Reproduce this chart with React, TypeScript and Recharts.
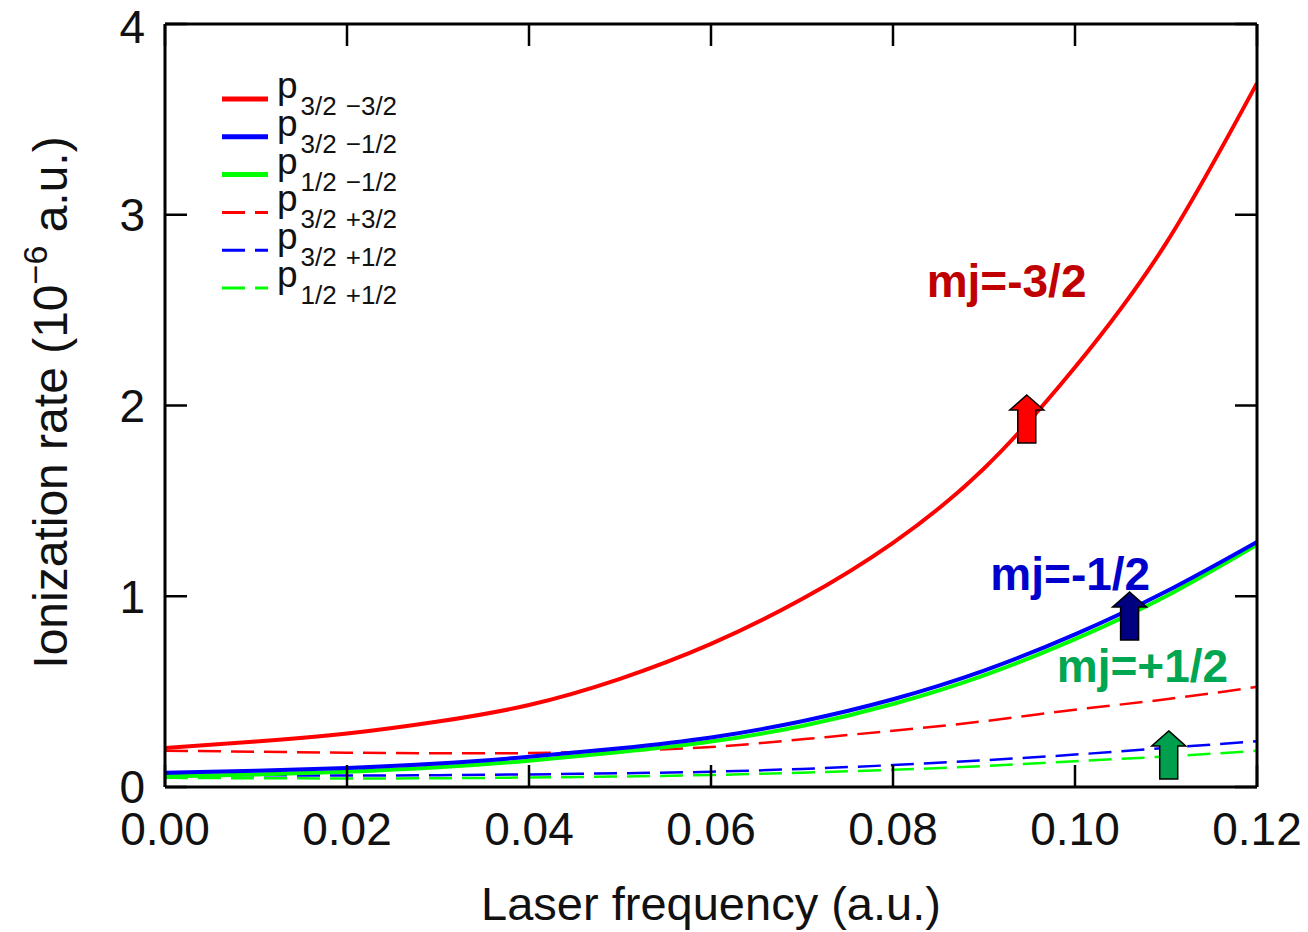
import React from 'react';
import { LineChart, Line, XAxis, YAxis, Legend, ReferenceDot, Label } from 'recharts';

// laser frequency (a.u.)
const freq = [0, 0.01, 0.02, 0.03, 0.04, 0.05, 0.06, 0.07, 0.08, 0.09, 0.1, 0.11, 0.12];

// ionization rate (1e-6 a.u.)
const p32m32 = [0.205, 0.238, 0.28, 0.343, 0.43, 0.567, 0.75, 0.985, 1.28, 1.67, 2.2, 2.85, 3.69];
const p32m12 = [0.075, 0.085, 0.1, 0.123, 0.158, 0.203, 0.26, 0.345, 0.46, 0.61, 0.8, 1.025, 1.285];
const p12m12 = [0.055, 0.065, 0.08, 0.103, 0.138, 0.183, 0.238, 0.32, 0.435, 0.585, 0.775, 1.0, 1.27];
const p32p32 = [0.19, 0.185, 0.18, 0.177, 0.178, 0.19, 0.21, 0.25, 0.295, 0.345, 0.405, 0.46, 0.525];
const p32p12 = [0.065, 0.062, 0.06, 0.062, 0.066, 0.072, 0.08, 0.095, 0.115, 0.14, 0.17, 0.205, 0.24];
const p12p12 = [0.048, 0.046, 0.045, 0.046, 0.05, 0.055, 0.063, 0.075, 0.09, 0.11, 0.135, 0.16, 0.19];

const xTicks = [0, 0.02, 0.04, 0.06, 0.08, 0.1, 0.12];
const yTicks = [0, 1, 2, 3, 4];

const FONT = '"Liberation Sans", Arial, Helvetica, sans-serif';

// legend order = order in the figure
const series = [
  { key: 'p32m32', values: p32m32, color: '#ff0000', dashed: false, j: '3/2', m: '\u22123/2' },
  { key: 'p32m12', values: p32m12, color: '#0000ff', dashed: false, j: '3/2', m: '\u22121/2' },
  { key: 'p12m12', values: p12m12, color: '#00ff00', dashed: false, j: '1/2', m: '\u22121/2' },
  { key: 'p32p32', values: p32p32, color: '#ff0000', dashed: true, j: '3/2', m: '+3/2' },
  { key: 'p32p12', values: p32p12, color: '#0000ff', dashed: true, j: '3/2', m: '+1/2' },
  { key: 'p12p12', values: p12p12, color: '#00ff00', dashed: true, j: '1/2', m: '+1/2' },
];

// draw order: green solid under blue solid
const drawOrder = ['p32p32', 'p32p12', 'p12p12', 'p32m32', 'p12m12', 'p32m12'];

const rows = freq.map((f, i) => {
  const r: Record<string, number> = { f };
  series.forEach((s) => {
    r[s.key] = s.values[i];
  });
  return r;
});

const DASH = '23 10';

const renderLegend = () => (
  <svg width={220} height={270} style={{ display: 'block', overflow: 'visible' }}>
    {series.map((s, i) => {
      const y = 41 + i * 37.8;
      return (
        <g key={s.key}>
          <line
            x1={7}
            x2={53}
            y1={y}
            y2={y}
            stroke={s.color}
            strokeWidth={s.dashed ? 3 : 5}
            strokeDasharray={s.dashed ? DASH : undefined}
          />
          <text x={62} y={y - 1} fontFamily={FONT} fontSize={37} fill="#111">
            p
            <tspan dx={3} dy={17} fontSize={26}>
              {s.j}
            </tspan>
            <tspan dx={9} fontSize={26}>
              {s.m}
            </tspan>
          </text>
        </g>
      );
    })}
  </svg>
);

const renderYLabel = (props: any) => {
  const vb = props.viewBox;
  const cx = vb.x + 67;
  const cy = vb.y + vb.height / 2 - 3;
  return (
    <text
      x={cx}
      y={cy}
      transform={`rotate(-90, ${cx}, ${cy})`}
      textAnchor="middle"
      fontFamily={FONT}
      fontSize={48}
      fill="#111"
    >
      Ionization rate (10
      <tspan dy={-20} fontSize={34}>
        {'\u22126'}
      </tspan>
      <tspan dy={20}> a.u.)</tspan>
    </text>
  );
};

const renderXLabel = (props: any) => {
  const vb = props.viewBox;
  return (
    <text
      x={vb.x + vb.width / 2}
      y={vb.y + 133}
      textAnchor="middle"
      fontFamily={FONT}
      fontSize={47}
      fill="#111"
    >
      Laser frequency (a.u.)
    </text>
  );
};

const arrow = (fill: string) => (p: any) => {
  const { cx, cy } = p;
  const d = `M${cx},${cy} L${cx + 17},${cy + 15} L${cx + 9},${cy + 15} L${cx + 9},${cy + 48} L${cx - 9},${cy + 48} L${cx - 9},${cy + 15} L${cx - 17},${cy + 15} Z`;
  return <path d={d} fill={fill} stroke="#000" strokeWidth={1.5} strokeLinejoin="miter" />;
};

const note = (txt: string, fill: string) => (p: any) => (
  <text x={p.cx} y={p.cy} fill={fill} fontFamily={FONT} fontSize={46} fontWeight="bold">
    {txt}
  </text>
);

const tickStyle = { fontSize: 46, fill: '#111', fontFamily: FONT };
const noLabel = () => '';

export default function App() {
  return (
    <div style={{ position: 'fixed', left: 0, top: 0, width: 1308, height: 932, background: '#fff' }}>
      <LineChart width={1308} height={932} data={rows} margin={{ top: 23, right: 50, bottom: 0, left: 0 }}>
        <XAxis
          dataKey="f"
          type="number"
          domain={[0, 0.12]}
          ticks={xTicks}
          tickFormatter={(v: number) => v.toFixed(2)}
          height={145}
          stroke="#000"
          axisLine={{ strokeWidth: 3 }}
          tickLine={{ strokeWidth: 2.5 }}
          tickSize={-22}
          tickMargin={47}
          tick={tickStyle}
          allowDataOverflow
        >
          <Label content={renderXLabel} />
        </XAxis>
        <XAxis
          xAxisId="top"
          orientation="top"
          dataKey="f"
          type="number"
          domain={[0, 0.12]}
          ticks={xTicks}
          height={1}
          stroke="#000"
          axisLine={{ strokeWidth: 3 }}
          tickLine={{ strokeWidth: 2.5 }}
          tickSize={-22}
          tickFormatter={noLabel}
          tick={{ fontSize: 1 }}
          allowDataOverflow
        />
        <YAxis
          type="number"
          domain={[0, 4]}
          ticks={yTicks}
          width={165}
          stroke="#000"
          axisLine={{ strokeWidth: 3 }}
          tickLine={{ strokeWidth: 2.5 }}
          tickSize={-22}
          tickMargin={42}
          tick={tickStyle}
          allowDataOverflow
        >
          <Label content={renderYLabel} />
        </YAxis>
        <YAxis
          yAxisId="right"
          orientation="right"
          type="number"
          domain={[0, 4]}
          ticks={yTicks}
          width={1}
          stroke="#000"
          axisLine={{ strokeWidth: 3 }}
          tickLine={{ strokeWidth: 2.5 }}
          tickSize={-22}
          tickFormatter={noLabel}
          tick={{ fontSize: 1 }}
          allowDataOverflow
        />
        <Legend
          layout="horizontal"
          verticalAlign="middle"
          align="center"
          content={renderLegend}
          wrapperStyle={{ left: 215, top: 58, width: 220, height: 270 }}
        />
        {/* invisible series so the mirrored top/right axes get drawn */}
        <Line
          xAxisId="top"
          yAxisId="right"
          dataKey="p32m32"
          stroke="transparent"
          strokeWidth={0}
          dot={false}
          activeDot={false}
          legendType="none"
          isAnimationActive={false}
        />
        {drawOrder.map((k) => {
          const s = series.find((x) => x.key === k)!;
          return (
            <Line
              key={s.key}
              type="natural"
              dataKey={s.key}
              stroke={s.color}
              strokeWidth={s.dashed ? 2.5 : 4}
              strokeDasharray={s.dashed ? DASH : undefined}
              dot={false}
              activeDot={false}
              isAnimationActive={false}
            />
          );
        })}
        <ReferenceDot x={0.0837} y={2.569} r={0} shape={note('mj=-3/2', '#c00000')} />
        <ReferenceDot x={0.0907} y={1.033} r={0} shape={note('mj=-1/2', '#0000cc')} />
        <ReferenceDot x={0.098} y={0.55} r={0} shape={note('mj=+1/2', '#00a651')} />
        <ReferenceDot x={0.0947} y={2.055} r={0} shape={arrow('#ff0000')} />
        <ReferenceDot x={0.106} y={1.022} r={0} shape={arrow('#000080')} />
        <ReferenceDot x={0.1103} y={0.294} r={0} shape={arrow('#009f4d')} />
      </LineChart>
    </div>
  );
}
